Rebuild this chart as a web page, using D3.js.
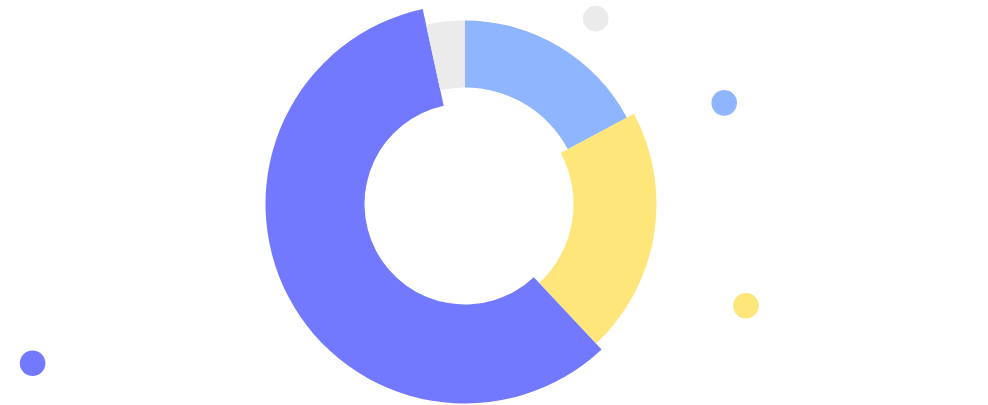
<!DOCTYPE html>
<html>
<head>
<meta charset="utf-8">
<script src="https://cdn.jsdelivr.net/npm/d3@7"></script>
<style>
  html, body { margin: 0; padding: 0; background: #fff; }
  svg { display: block; }
</style>
</head>
<body>
<svg id="chart" width="988" height="405"></svg>
<script>
const categories = ['A', 'B', 'C', 'D'];
const shares = [17.2, 20.8, 58.6, 3.4];
const weights = [1, 2, 3, 1];
const colors = ['#8fb5ff', '#ffe67a', '#7379ff', '#ebebeb'];

// scattered markers (x, y in percent of the canvas)
const dotX = [60.3, 73.3, 75.5, 3.3];
const dotY = [95.4, 74.6, 24.5, 10.3];
const dotCat = ['D', 'A', 'B', 'C'];

const W = 988, H = 405;
const svg = d3.select('#chart');

const x = d3.scaleLinear().domain([0, 100]).range([0, W]);
const y = d3.scaleLinear().domain([0, 100]).range([H, 0]);
const color = d3.scaleOrdinal().domain(categories).range(colors);
const thickness = d3.scaleLinear().domain([1, 3]).range([67, 99]);
const midRadius = 150;

const pie = d3.pie().sort(null).value(d => d.share);
const arcs = pie(categories.map((c, i) => ({ cat: c, share: shares[i], weight: weights[i] })));

const arc = d3.arc()
  .innerRadius(d => midRadius - thickness(d.data.weight) / 2)
  .outerRadius(d => midRadius + thickness(d.data.weight) / 2);

const g = svg.append('g').attr('transform', 'translate(465,204)');

g.selectAll('path')
  .data(arcs)
  .enter()
  .append('path')
  .attr('d', arc)
  .attr('fill', d => color(d.data.cat));

svg.selectAll('circle')
  .data(dotCat.map((c, i) => ({ cat: c, x: dotX[i], y: dotY[i] })))
  .enter()
  .append('circle')
  .attr('cx', d => x(d.x))
  .attr('cy', d => y(d.y))
  .attr('r', 12.8)
  .attr('fill', d => color(d.cat));
</script>
</body>
</html>
